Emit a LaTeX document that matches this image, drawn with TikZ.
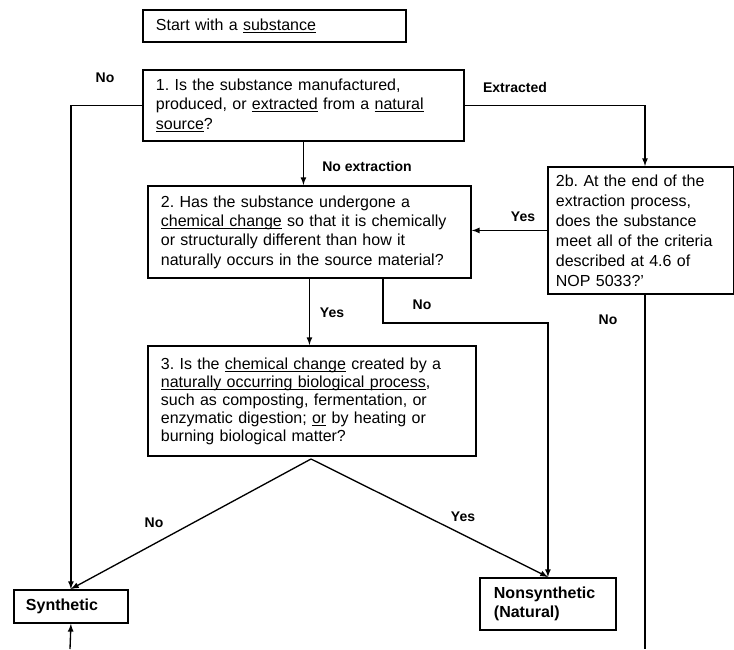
\documentclass[tikz,border=0pt]{standalone}
\usepackage{fontspec}
\setmainfont{Liberation Sans}
\frenchspacing
\newcommand{\uln}[1]{\underline{\smash{#1}}}
\tikzset{
  >=latex,
  qbox/.style={draw, line width=1.4pt, anchor=north west, align=left,
    inner xsep=9.75pt, inner ysep=0pt, font=\fontsize{12}{14.5}\selectfont},
  endbox/.style={qbox, font=\bfseries\fontsize{12}{14.5}\selectfont},
  lbl/.style={font=\bfseries\fontsize{10.5}{12}\selectfont},
  flow/.style={->, line width=1pt},
  wire/.style={line width=1pt}
}
\begin{document}
\begin{tikzpicture}[x=0.75pt,y=-0.75pt]
\useasboundingbox (0,0) rectangle (734,649);

\node[qbox, text width=177.75pt, minimum height=24pt] (start) at (142,9) {Start with a \uln{substance}};

\node[qbox, text width=221.25pt, minimum height=53.25pt] (q1) at (142,69)
  {1. Is the substance manufactured,\\ produced, or \uln{extracted} from a \uln{natural}\\ \uln{source}?};

\node[qbox, text width=222.75pt, minimum height=69pt] (q2) at (147,185)
  {2. Has the substance undergone a\\ \uln{chemical change} so that it is chemically\\ or structurally different than how it\\ naturally occurs in the source material?};

\node[qbox, text width=127.5pt, inner xsep=6pt, minimum height=95.25pt,
  font=\fontsize{12}{15}\selectfont] (q2b) at (547,166)
  {2b. At the end of the\\ extraction process,\\ does the substance\\ meet all of the criteria\\ described at 4.6 of\\ NOP 5033?'};

\node[qbox, text width=226.5pt, minimum height=82.5pt,
  font=\fontsize{12}{13.5}\selectfont] (q3) at (147,345)
  {3. Is the \uln{chemical change} created by a\\ \uln{naturally occurring biological process},\\ such as composting, fermentation, or\\ enzymatic digestion; \uln{or} by heating or\\ burning biological matter?};

\node[endbox, text width=67.5pt, inner xsep=9pt, minimum height=24.75pt] (synth) at (13,589) {Synthetic};
\node[endbox, text width=81pt, inner xsep=10.5pt, minimum height=39pt] (nonsyn) at (479,577) {Nonsynthetic\\ (Natural)};

% helper points
\coordinate (xr) at (645,0);
\coordinate (nobend) at (383,323);
\coordinate (apex) at (311,459);
\coordinate (outr) at (645,649);
\coordinate (outl) at (70,649);

\draw[flow] (q1.west) -| (synth.north);
\draw[flow] (q1.east) -| (q2b.north -| xr);
\draw[flow] (q1.south) -- (q1.south |- q2.north);
\draw[flow] (q2b.west) -- (q2b.west -| q2.east);
\draw[flow] (q2.south) -- (q2.south |- q3.north);
\draw[flow] (q2.south -| nobend) -- (nobend) -| (nonsyn.north);
\draw[flow] (apex) -- (synth.north);
\draw[flow] (apex) -- (nonsyn.north);
\draw[wire] (q2b.south -| outr) -- (outr);
\draw[flow] (outl) -- (synth.south);

\node[lbl] (lno1) at (105,78) {No};
\node[lbl] (lext) at (515,87) {Extracted};
\node[lbl] (lnoext) at (367,166) {No extraction};
\node[lbl] (lyes2b) at (523,217) {Yes};
\node[lbl] (lyes2) at (332,313) {Yes};
\node[lbl] (lno2) at (422,305) {No};
\node[lbl] (lno2b) at (608,320) {No};
\node[lbl] (lno3) at (154,523) {No};
\node[lbl] (lyes3) at (463,517) {Yes};

\end{tikzpicture}
\end{document}
